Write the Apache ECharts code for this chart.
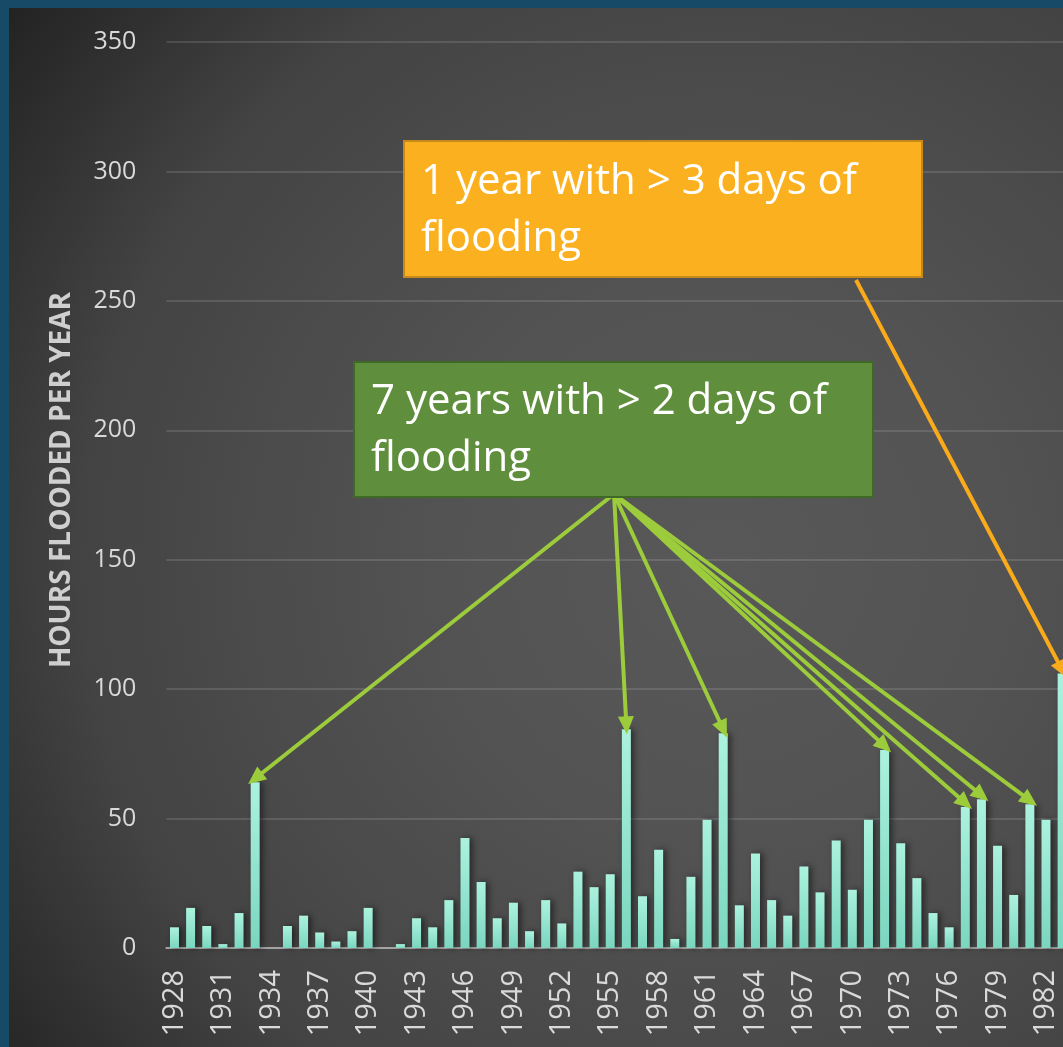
<!DOCTYPE html>
<html>
<head>
<meta charset="utf-8">
<title>Hours flooded per year</title>
<script src="https://cdn.jsdelivr.net/npm/echarts@6/dist/echarts.min.js"></script>
<style>
  html, body {
    margin: 0;
    padding: 0;
    width: 1063px;
    height: 1047px;
    overflow: hidden;
    background: #164a66;
  }
  #container {
    position: absolute;
    left: 9px;
    top: 8px;
    width: 1070px;
    height: 1039px;
    background: radial-gradient(circle at 711px 552px, #585858 0px, #545454 250px, #4c4c4c 450px, #434343 640px, #2f2f2f 800px, #1f1f1f 930px);
  }
</style>
</head>
<body>
<div id="container"></div>
<script>
// years on the x axis
const years = ['1928', '1929', '1930', '1931', '1932', '1933', '1934', '1935', '1936', '1937',
  '1938', '1939', '1940', '1941', '1942', '1943', '1944', '1945', '1946', '1947',
  '1948', '1949', '1950', '1951', '1952', '1953', '1954', '1955', '1956', '1957',
  '1958', '1959', '1960', '1961', '1962', '1963', '1964', '1965', '1966', '1967',
  '1968', '1969', '1970', '1971', '1972', '1973', '1974', '1975', '1976', '1977',
  '1978', '1979', '1980', '1981', '1982', '1983']

// hours flooded in each year
const hoursFlooded = [8, 15.5, 8.5, 1.5, 13.5, 64, 0, 8.5, 12.5, 6,
  2.5, 6.5, 15.5, 0, 1.5, 11.5, 8, 18.5, 42.5, 25.5,
  11.5, 17.5, 6.5, 18.5, 9.5, 29.5, 23.5, 28.5, 84.5, 20,
  38, 3.5, 27.5, 49.5, 83, 16.5, 36.5, 18.5, 12.5, 31.5,
  21.5, 41.5, 22.5, 49.5, 76.5, 40.5, 27, 13.5, 8, 54.5,
  57.5, 39.5, 20.5, 55.5, 49.5, 106]

// years the annotation arrows point at
const twoDayYears = ['1933', '1956', '1962', '1972', '1977', '1978', '1981']
const threeDayYears = ['1983']

const yTicks = [0, 50, 100, 150, 200, 250, 300, 350]

const labelFont = '"Open Sans", sans-serif'

// arrow from a fixed point under a box to the top of a bar
function arrowTo (from, year, color) {
  const v = hoursFlooded[years.indexOf(year)]
  return [
    { x: from[0], y: from[1], lineStyle: { color: color, width: 4, type: 'solid' } },
    { coord: [year, v + 1.5] }
  ]
}

const greenFrom = [605, 486]
const orangeFrom = [847, 272]

const option = {
  animation: false,
  grid: {
    left: 157.4,
    top: 34,
    bottom: 99,
    right: 8.8
  },
  xAxis: {
    type: 'category',
    data: years,
    axisTick: { show: false },
    axisLine: {
      lineStyle: { color: '#a3a3a3', width: 2 }
    },
    axisLabel: {
      interval: 2,
      rotate: 90,
      margin: 22,
      color: '#d9d9d9',
      fontSize: 29,
      fontFamily: labelFont
    }
  },
  yAxis: {
    type: 'value',
    min: yTicks[0],
    max: yTicks[yTicks.length - 1],
    interval: 50,
    name: 'HOURS FLOODED PER YEAR',
    nameLocation: 'middle',
    nameGap: 90,
    nameTextStyle: {
      color: '#cfcfcf',
      fontSize: 28,
      fontWeight: 'bold',
      fontFamily: labelFont,
      padding: [0, 0, 0, 30]
    },
    axisLine: { show: false },
    axisTick: { show: false },
    splitLine: {
      lineStyle: { color: 'rgba(255,255,255,0.12)', width: 2 }
    },
    axisLabel: {
      margin: 30,
      color: '#d9d9d9',
      fontSize: 25,
      fontFamily: labelFont
    }
  },
  series: [
    {
      type: 'bar',
      data: hoursFlooded,
      barWidth: 9,
      itemStyle: {
        color: new echarts.graphic.LinearGradient(0, 0, 0, 1, [
          { offset: 0, color: '#abf2de' },
          { offset: 1, color: '#7bd6bf' }
        ]),
        shadowColor: 'rgba(0,0,0,0.5)',
        shadowBlur: 6,
        shadowOffsetX: 3
      },
      markLine: {
        silent: true,
        symbol: ['none', 'triangle'],
        symbolSize: [16, 18],
        label: { show: false },
        data: twoDayYears.map(y => arrowTo(greenFrom, y, '#9ccc3c'))
          .concat(threeDayYears.map(y => arrowTo(orangeFrom, y, '#f9ab1c')))
      }
    }
  ],
  graphic: [
    {
      type: 'rect',
      left: 394,
      top: 132,
      shape: { width: 518, height: 136 },
      style: { fill: '#fbb01f', stroke: '#c7891a', lineWidth: 2 },
      z: 10
    },
    {
      type: 'text',
      left: 412,
      top: 146,
      style: {
        text: '1 year with > 3 days of\nflooding',
        fill: '#ffffff',
        font: '42px "Open Sans", sans-serif',
        lineHeight: 57
      },
      z: 11
    },
    {
      type: 'rect',
      left: 344,
      top: 353,
      shape: { width: 519, height: 135 },
      style: { fill: '#5f8f3c', stroke: '#3f6a26', lineWidth: 2 },
      z: 10
    },
    {
      type: 'text',
      left: 362,
      top: 366,
      style: {
        text: '7 years with > 2 days of\nflooding',
        fill: '#ffffff',
        font: '42px "Open Sans", sans-serif',
        lineHeight: 57
      },
      z: 11
    }
  ]
}

const dom = document.getElementById('container')
const myChart = echarts.init(dom)
myChart.setOption(option)
</script>
</body>
</html>
